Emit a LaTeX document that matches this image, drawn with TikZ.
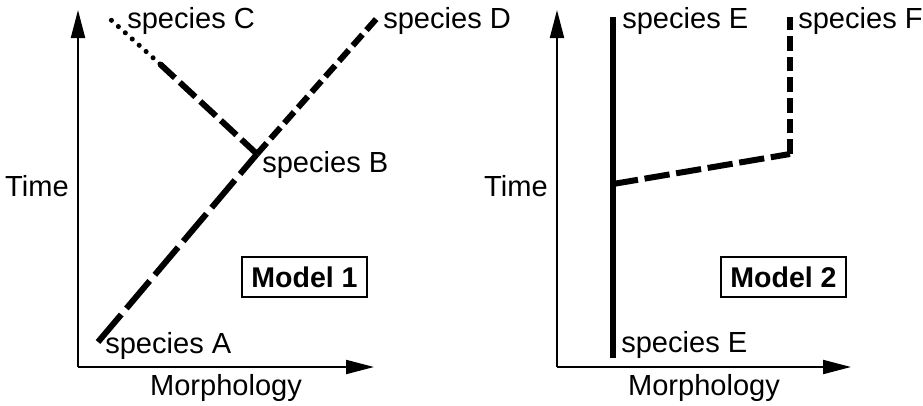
\documentclass[tikz,border=0pt]{standalone}
\usepackage{fontspec}
\setmainfont{Liberation Sans}
\usetikzlibrary{arrows.meta}
\tikzset{
  axis/.style={line width=1.5pt, -{Triangle[length=21pt,width=10.5pt]}},
  lineage/.style={line width=4.5pt, line cap=butt},
  longdash/.style={lineage, dash pattern=on 27pt off 6pt},
  middash/.style={lineage, dash pattern=on 16pt off 5pt},
  shortdash/.style={lineage, dash pattern=on 11pt off 4.5pt},
  dotline/.style={line width=3.8pt, line cap=round, dash pattern=on 0pt off 7pt},
  lbl/.style={inner sep=0pt, font=\fontsize{21.8}{26}\selectfont},
  modelbox/.style={draw, line width=1pt, inner sep=0pt, minimum width=93.75pt,
    minimum height=30pt, font=\fontsize{21.4}{26}\selectfont\bfseries}
}
\begin{document}
\begin{tikzpicture}[x=0.75pt, y=-0.75pt]
\useasboundingbox (0,0) rectangle (923,405);

% ---- Model 1 ----
\coordinate (o1) at (78,367);
\coordinate (t1) at (78,10);
\coordinate (m1) at (374,367);
\draw[axis] (o1) -- (t1);
\draw[axis] (o1) -- (m1);
\node[lbl, anchor=east] (time1) at (69,186) {Time};
\node[lbl] (morph1) at (226,388) {Morphology};

\coordinate (spA) at (98,342);
\coordinate (spB) at (257,154);
\coordinate (spD) at (378,17);
\coordinate (spC) at (110,19);
\coordinate (cmid) at (160,64);

\draw[longdash] (spA) -- (spB);
\draw[shortdash] (spB) -- (spD);
\draw[middash] (spB) -- (cmid);
\draw[dotline] (cmid) -- (spC);

\node[lbl, anchor=west] (labA) at (105,346) {species A};
\node[lbl, anchor=west] (labB) at (262,165) {species B};
\node[lbl, anchor=west] (labC) at (127,21) {species C};
\node[lbl, anchor=west] (labD) at (383,21) {species D};
\node[modelbox] (model1) at (304.5,277) {Model 1};

% ---- Model 2 ----
\coordinate (o2) at (557,367);
\coordinate (t2) at (557,10);
\coordinate (m2) at (851,367);
\draw[axis] (o2) -- (t2);
\draw[axis] (o2) -- (m2);
\node[lbl, anchor=east] (time2) at (548,186) {Time};
\node[lbl] (morph2) at (704,388) {Morphology};

\coordinate (eBot) at (613,358);
\coordinate (eTop) at (613,17);
\coordinate (split) at (613,184);
\coordinate (fCorner) at (790,154);
\coordinate (fTop) at (790,17);

\draw[lineage] (eBot) -- (eTop);
\draw[longdash, dash pattern=on 19pt off 5pt] (split) -- (fCorner);
\draw[shortdash] (fCorner) -- (fTop);

\node[lbl, anchor=west] (labEtop) at (622,21) {species E};
\node[lbl, anchor=west] (labF) at (798,21) {species F};
\node[lbl, anchor=west] (labEbot) at (621,345) {species E};
\node[modelbox] (model2) at (783.5,277) {Model 2};
\end{tikzpicture}
\end{document}
